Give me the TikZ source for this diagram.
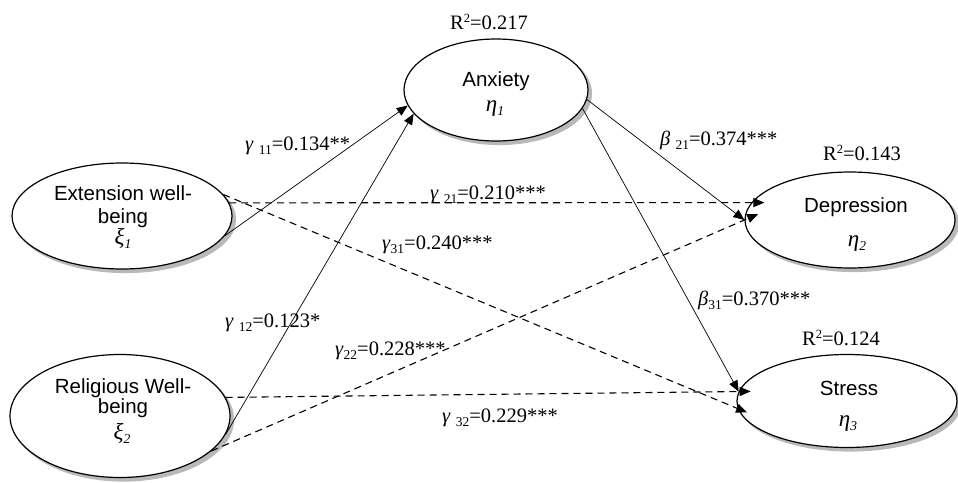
\documentclass[tikz,border=0pt]{standalone}
\usepackage{fontspec}
\setmainfont{Liberation Serif}
\newfontfamily\sansf{Liberation Sans}
\usetikzlibrary{shapes.geometric,arrows.meta}
\newcommand{\sbs}[1]{\raisebox{-0.45ex}{\fontsize{13.5}{13.5}\selectfont #1}}
\newcommand{\sps}[1]{\raisebox{0.7ex}{\fontsize{12.5}{12.5}\selectfont #1}}
\begin{document}
\begin{tikzpicture}[x=1pt,y=-1pt,
  latent/.style={ellipse,draw,line width=1.2pt,fill=white,inner sep=0pt},
  shade/.style={ellipse,fill=gray!55,draw=gray!55,line width=1.2pt,inner sep=0pt},
  lbl/.style={font=\sansf\fontsize{20.5}{22}\selectfont,inner sep=0pt,anchor=base},
  grk/.style={font=\fontsize{23}{23}\selectfont\itshape,inner sep=0pt,anchor=base},
  coef/.style={font=\fontsize{20.5}{21}\selectfont,inner sep=0pt,anchor=base west},
  rsq/.style={font=\fontsize{20.5}{21}\selectfont,inner sep=0pt,anchor=base},
  solidarr/.style={line width=0.7pt,-{Triangle[length=11pt,width=9pt]}},
  dasharr/.style={line width=1.1pt,dash pattern=on 7pt off 5pt,-{Triangle[length=11pt,width=9pt]}}
]
\useasboundingbox (0,0) rectangle (958,482);

% shadows (drawn first, behind)
\node[shade,minimum width=220pt,minimum height=106pt] (extS) at (125.5,219.5) {};
\node[shade,minimum width=220pt,minimum height=123pt] (relS) at (123.5,419.5) {};
\node[shade,minimum width=184pt,minimum height=102pt] (anxS) at (499.5,93.5) {};
\node[shade,minimum width=210pt,minimum height=96pt] (depS) at (853.5,223.5) {};
\node[shade,minimum width=220pt,minimum height=93pt] (strS) at (850.5,404.5) {};

% latent variables
\node[latent,minimum width=220pt,minimum height=106pt] (ext) at (122,216) {};
\node[latent,minimum width=220pt,minimum height=123pt] (rel) at (120,416) {};
\node[latent,minimum width=184pt,minimum height=102pt] (anx) at (496,90) {};
\node[latent,minimum width=210pt,minimum height=96pt] (dep) at (850,220) {};
\node[latent,minimum width=220pt,minimum height=93pt] (str) at (847,401) {};

% texts inside
\node[lbl] (extA) at (123,200) {Extension well-};
\node[lbl] (extB) at (123,223) {being};
\node[grk] (extG) at (123,244) {ξ\sbs{1}};
\node[lbl] (relA) at (123,393) {Religious Well-};
\node[lbl] (relB) at (123,413) {being};
\node[grk] (relG) at (122,439) {ξ\sbs{2}};
\node[lbl] (anxA) at (496,86) {Anxiety};
\node[grk] (anxG) at (495,111) {η\sbs{1}};
\node[lbl] (depA) at (856,212) {Depression};
\node[grk] (depG) at (857,246) {η\sbs{2}};
\node[lbl] (strA) at (849,395) {Stress};
\node[grk] (strG) at (848,426) {η\sbs{3}};

% R squared
\node[rsq] (r1) at (489,29) {R\sps{2}=0.217};
\node[rsq] (r2) at (862,160) {R\sps{2}=0.143};
\node[rsq] (r3) at (841,345) {R\sps{2}=0.124};

% paths
\draw[solidarr] (ext.-11) -- (anx.190);
\draw[solidarr] (rel.-10) -- (anx.196);
\draw[solidarr] (anx.-6) -- (dep.west);
\draw[solidarr] (anx.-12) -- (str.175);
\draw[dasharr,shorten >=-13pt] (ext.7) -- (dep.170);
\draw[dasharr,shorten >=-10pt] (ext.12) -- (str.184);
\draw[dasharr,shorten >=-12pt] (rel.10) -- (str.175);
\draw[dasharr,shorten >=-15pt] (rel.-21) -- (dep.west);

% coefficients
\node[coef] (g11) at (245,150) {\textit{γ} \sbs{11}=0.134**};
\node[coef] (g21) at (430,199) {\textit{γ} \sbs{21}=0.210***};
\node[coef] (g31) at (382,249) {\textit{γ}\sbs{31}=0.240***};
\node[coef] (b21) at (660,145) {\textit{β} \sbs{21}=0.374***};
\node[coef] (b31) at (698,305) {\textit{β}\sbs{31}=0.370***};
\node[coef] (g12) at (225,327) {\textit{γ} \sbs{12}=0.123*};
\node[coef] (g22) at (335,355) {\textit{γ}\sbs{22}=0.228***};
\node[coef] (g32) at (442,422) {\textit{γ} \sbs{32}=0.229***};
\end{tikzpicture}
\end{document}
